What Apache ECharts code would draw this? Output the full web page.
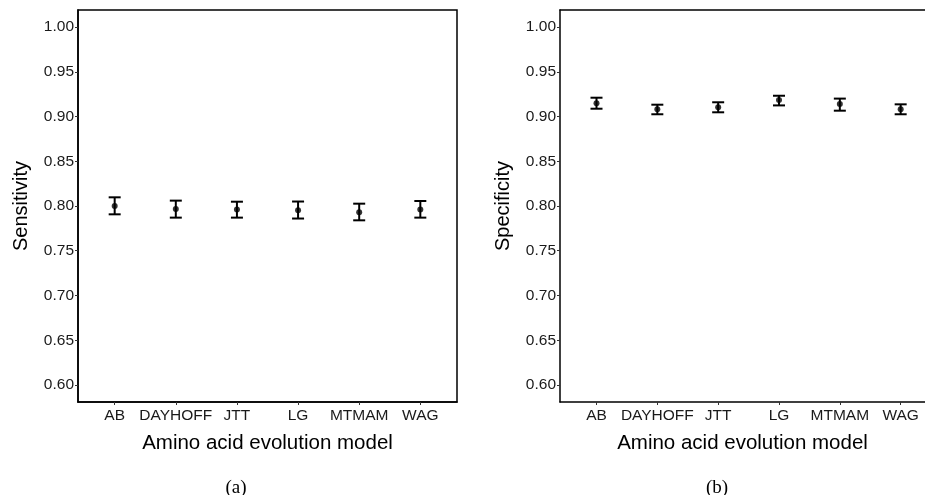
<!DOCTYPE html>
<html>
<head>
<meta charset="utf-8">
<script src="https://cdn.jsdelivr.net/npm/echarts@6/dist/echarts.min.js"></script>
<style>
  html, body { margin: 0; padding: 0; background: #fff; }
  #main { width: 925px; height: 495px; }
</style>
</head>
<body>
<div id="main"></div>
<script>
// amino acid models on the x axis
var models = ['AB', 'DAYHOFF', 'JTT', 'LG', 'MTMAM', 'WAG'];
var yTicks = [0.60, 0.65, 0.70, 0.75, 0.80, 0.85, 0.90, 0.95, 1.00];

// (a) sensitivity: mean, lower, upper
var sensMean = [0.800, 0.7966, 0.796, 0.7952, 0.793, 0.796];
var sensLow  = [0.7907, 0.787, 0.787, 0.786, 0.784, 0.787];
var sensHigh = [0.8097, 0.806, 0.8048, 0.805, 0.8026, 0.8056];

// (b) specificity: mean, lower, upper
var specMean = [0.9147, 0.908, 0.9103, 0.9184, 0.914, 0.908];
var specLow  = [0.9087, 0.9025, 0.9047, 0.9124, 0.9065, 0.9025];
var specHigh = [0.921, 0.9132, 0.9159, 0.9232, 0.920, 0.9136];

var chart = echarts.init(document.getElementById('main'));

function toRows(mean, low, high) {
  return models.map(function (m, i) { return [i + 1, mean[i], low[i], high[i]]; });
}

function errorBars(api) {
  var x = api.value(0);
  var lo = api.coord([x, api.value(2)]);
  var hi = api.coord([x, api.value(3)]);
  var half = 6;
  var style = { stroke: '#000', lineWidth: 2 };
  return {
    type: 'group',
    children: [
      { type: 'line', shape: { x1: lo[0], y1: lo[1], x2: hi[0], y2: hi[1] }, style: style },
      { type: 'line', shape: { x1: lo[0] - half, y1: lo[1], x2: lo[0] + half, y2: lo[1] }, style: style },
      { type: 'line', shape: { x1: hi[0] - half, y1: hi[1], x2: hi[0] + half, y2: hi[1] }, style: style }
    ]
  };
}

var font = 'Liberation Sans, Arial, sans-serif';
var serif = 'Liberation Serif, Times New Roman, serif';

function xAxisOpt(gi, max) {
  return {
    gridIndex: gi,
    type: 'value',
    min: 0.4,
    max: max,
    splitLine: { show: false },
    axisLine: { show: true, onZero: false, lineStyle: { color: '#000', width: 1.5 } },
    axisTick: { show: true, length: 3, lineStyle: { color: '#333', width: 1 },
      customValues: [1, 2, 3, 4, 5, 6] },
    axisLabel: {
      customValues: [1, 2, 3, 4, 5, 6],
      formatter: function (v) { return models[Math.round(v) - 1] || ''; },
      color: '#1a1a1a', fontSize: 15.5, fontFamily: font, margin: 6
    },
    name: 'Amino acid evolution model',
    nameLocation: 'middle',
    nameGap: 31,
    nameTextStyle: { color: '#000', fontSize: 20.5, fontFamily: font }
  };
}

// top border line only
function topAxisOpt(gi, max) {
  return {
    gridIndex: gi, type: 'value', position: 'top', min: 0.4, max: max,
    axisLine: { show: true, onZero: false, lineStyle: { color: '#000', width: 1.5 } },
    axisTick: { show: false }, axisLabel: { show: false }, splitLine: { show: false }
  };
}

function yAxisOpt(gi, title) {
  return {
    gridIndex: gi,
    type: 'value',
    min: 0.581,
    max: 1.019,
    splitLine: { show: false },
    axisLine: { show: true, onZero: false, lineStyle: { color: '#000', width: 1.5 } },
    axisTick: { show: true, length: 3, lineStyle: { color: '#333', width: 1 },
      customValues: yTicks },
    axisLabel: {
      customValues: yTicks,
      formatter: function (v) { return v.toFixed(2); },
      color: '#1a1a1a', fontSize: 15.5, fontFamily: font, margin: 4
    },
    name: title,
    nameLocation: 'middle',
    nameGap: 47,
    nameTextStyle: { color: '#000', fontSize: 20, fontFamily: font }
  };
}

chart.setOption({
  backgroundColor: '#fff',
  animation: false,
  grid: [
    { left: 78, top: 10, width: 379, height: 392, show: true, borderColor: '#000', borderWidth: 1.5, backgroundColor: 'transparent' },
    { left: 560, top: 10, width: 366, height: 392 }
  ],
  title: [
    { text: '(a)', left: 231, top: 474, textAlign: 'center',
      textStyle: { fontFamily: serif, fontSize: 19, fontWeight: 'normal', color: '#000' } },
    { text: '(b)', left: 712, top: 474, textAlign: 'center',
      textStyle: { fontFamily: serif, fontSize: 19, fontWeight: 'normal', color: '#000' } }
  ],
  xAxis: [xAxisOpt(0, 6.6), xAxisOpt(1, 0.4 + 366 / 61), topAxisOpt(1, 0.4 + 366 / 61)],
  yAxis: [yAxisOpt(0, 'Sensitivity'), yAxisOpt(1, 'Specificity')],
  series: [
    { type: 'custom', xAxisIndex: 0, yAxisIndex: 0, renderItem: function (p, api) { return errorBars(api); },
      data: toRows(sensMean, sensLow, sensHigh), encode: { x: 0, y: [2, 3] } },
    { type: 'scatter', xAxisIndex: 0, yAxisIndex: 0, symbol: 'circle', symbolSize: 6,
      itemStyle: { color: '#000' }, data: toRows(sensMean, sensLow, sensHigh).map(function (r) { return [r[0], r[1]]; }) },
    { type: 'custom', xAxisIndex: 1, yAxisIndex: 1, renderItem: function (p, api) { return errorBars(api); },
      data: toRows(specMean, specLow, specHigh), encode: { x: 0, y: [2, 3] } },
    { type: 'scatter', xAxisIndex: 1, yAxisIndex: 1, symbol: 'circle', symbolSize: 6,
      itemStyle: { color: '#000' }, data: toRows(specMean, specLow, specHigh).map(function (r) { return [r[0], r[1]]; }) }
  ]
});
</script>
</body>
</html>
